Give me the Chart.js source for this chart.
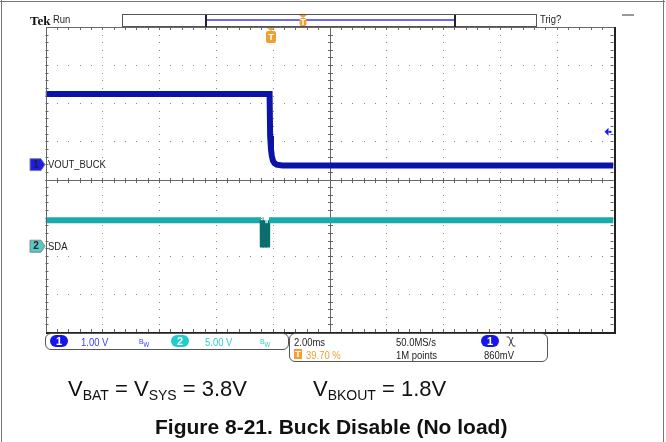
<!DOCTYPE html>
<html><head><meta charset="utf-8">
<script src="https://cdn.jsdelivr.net/npm/chart.js@4.4.1/dist/chart.umd.min.js"></script>
<style>
html,body{margin:0;padding:0;background:#fff;}
#wrap{position:relative;width:666px;height:442px;overflow:hidden;}
#c{position:absolute;left:0;top:0;}
.sc{position:absolute;font:11px 'Liberation Sans',Arial,sans-serif;line-height:11px;white-space:nowrap;transform:scaleX(0.86);transform-origin:0 0;color:#222;}
.box{position:absolute;border:1.5px solid #555;border-radius:6px;box-sizing:border-box;}
.ell{position:absolute;width:18px;height:12px;border-radius:6px;color:#fff;font:bold 11px 'Liberation Sans',Arial,sans-serif;line-height:12px;text-align:center;}
.cap{position:absolute;font:22px 'Liberation Sans',Arial,sans-serif;line-height:22px;white-space:nowrap;color:#111;}
.cap sub{font-size:14px;vertical-align:-4px;line-height:0;}
</style></head>
<body><div id="wrap">
<canvas id="c" width="666" height="442"></canvas>
<div style="position:absolute;left:0;top:1px;width:665px;height:1px;background:#777"></div>
<div style="position:absolute;left:1px;top:0;width:1px;height:442px;background:#777"></div>
<div style="position:absolute;left:663px;top:0;width:1px;height:442px;background:#777"></div>
<div style="position:absolute;left:622px;top:14px;width:12px;height:2px;background:#999"></div>

<div style="position:absolute;left:30px;top:14px;font:bold 13px 'Liberation Serif',serif;line-height:13px;color:#111">Tek</div>
<div class="sc" style="left:53px;top:13.5px">Run</div>
<div class="sc" style="left:540px;top:13.5px">Trig?</div>
<div class="sc" style="left:48px;top:158.7px">VOUT_BUCK</div>
<div class="sc" style="left:48px;top:240.7px">SDA</div>

<div class="box" style="left:45px;top:333px;width:244px;height:17px"></div>
<div class="ell" style="left:50px;top:335px;background:#1616e8">1</div>
<div class="sc" style="left:81px;top:336.7px;color:#3a3aef">1.00 V</div>
<div class="sc" style="left:139px;top:336px;color:#3a3aef;font-size:8px">B<sub style="font-size:7px">W</sub></div>
<div class="ell" style="left:171px;top:335px;background:#22cccc">2</div>
<div class="sc" style="left:205px;top:336.7px;color:#33cccc">5.00 V</div>
<div class="sc" style="left:260px;top:336px;color:#33cccc;font-size:8px">B<sub style="font-size:7px">W</sub></div>

<div class="box" style="left:289px;top:333px;width:259px;height:29px"></div>
<div class="sc" style="left:294px;top:336.7px">2.00ms</div>
<div class="sc" style="left:396px;top:336.7px">50.0MS/s</div>
<div class="ell" style="left:481px;top:335px;background:#1616e8">1</div>
<svg style="position:absolute;left:506px;top:336px" width="10" height="11"><path d="M0.5 1 H3 L7 10 H9.5 M7 1 L3 10" stroke="#444" fill="none" stroke-width="1"/></svg>
<div style="position:absolute;left:294px;top:349px;width:8px;height:10px;background:#f0a030;color:#fff;font:bold 9px 'Liberation Sans',sans-serif;line-height:10px;text-align:center">T</div>
<div class="sc" style="left:306px;top:350px;color:#f0a030">39.70 %</div>
<div class="sc" style="left:396px;top:350px">1M points</div>
<div class="sc" style="left:484px;top:350px">860mV</div>

<div class="cap" style="left:68px;top:378.4px">V<sub>BAT</sub> = V<sub>SYS</sub> = 3.8V</div>
<div class="cap" style="left:313px;top:378.4px">V<sub>BKOUT</sub> = 1.8V</div>
<div class="cap" style="left:155px;top:416.2px;font:bold 21px 'Liberation Sans',Arial,sans-serif;line-height:21px">Figure 8-21. Buck Disable (No load)</div>
</div>
<script>
// ---- scope settings ----
const timePerDiv = 2;      // ms/div
const trigPosPct = 39.70;  // % of record
const ch1VoltsPerDiv = 1.00, ch1PosDiv = 0.39;
const ch2VoltsPerDiv = 5.00, ch2PosDiv = -1.75;
const trigLevel = 0.86;    // V on CH1

// ---- CH1: VOUT_BUCK (ms, V) ----
const ch1Time = [-7.94, -0.05, -0.03, 0.00, 0.03, 0.07, 0.12, 0.20, 0.40, 12.06];
const ch1Volt = [1.85, 1.85, 0.75, 0.40, 0.22, 0.10, 0.04, 0.00, -0.02, -0.02];

// ---- CH2: SDA (ms, V) ----
const ch2Time = [-7.94, -0.355, -0.35, -0.30, -0.295, -0.26, -0.255, -0.20, -0.195, -0.16, -0.155, -0.075, -0.07, 12.06];
const ch2Volt = [3.4, 3.4, 0.0, 0.0, 3.4, 3.4, 0.0, 0.0, 3.0, 3.0, 0.0, 0.0, 3.4, 3.4];

const tx = t => t / timePerDiv + trigPosPct / 10;
const y1 = v => v / ch1VoltsPerDiv + ch1PosDiv;
const y2 = v => v / ch2VoltsPerDiv + ch2PosDiv;

const ch1Pts = ch1Time.map((t, i) => ({x: tx(t), y: y1(ch1Volt[i])}));
const ch2Pts = ch2Time.map((t, i) => ({x: tx(t), y: y2(ch2Volt[i])}));
const ch2Low = y2(2.0);

function tag(ctx, x, y, fill, txt) {
  ctx.save();
  ctx.beginPath();
  ctx.moveTo(x, y - 6); ctx.lineTo(x + 11, y - 6); ctx.lineTo(x + 15, y);
  ctx.lineTo(x + 11, y + 6); ctx.lineTo(x, y + 6); ctx.closePath();
  ctx.fillStyle = fill; ctx.fill();
  ctx.strokeStyle = '#888'; ctx.lineWidth = 1; ctx.stroke();
  ctx.fillStyle = '#222'; ctx.font = 'bold 10px "Liberation Sans"';
  ctx.textAlign = 'center'; ctx.textBaseline = 'middle';
  ctx.fillText(txt, x + 6, y + 0.5);
  ctx.restore();
}
function tMark(ctx, x, top, w, h) {
  ctx.save();
  ctx.fillStyle = '#f0a030';
  ctx.beginPath(); ctx.moveTo(x - 4, top); ctx.lineTo(x + 4, top); ctx.lineTo(x, top + 3); ctx.fill();
  ctx.beginPath(); ctx.roundRect(x - w / 2, top + 3, w, h, 2); ctx.fill();
  ctx.fillStyle = '#fff'; ctx.font = 'bold 9px "Liberation Sans"';
  ctx.textAlign = 'center'; ctx.textBaseline = 'middle';
  ctx.fillText('T', x, top + 3 + h / 2 + 0.5);
  ctx.restore();
}

const graticule = {
  id: 'graticule',
  beforeDatasetsDraw(chart) {
    const ctx = chart.ctx, xs = chart.scales.x, ys = chart.scales.y, a = chart.chartArea;
    ctx.save();
    ctx.fillStyle = '#8a8a8a';
    for (let i = 1; i < 10; i++) {
      if (i === 5) continue;
      const px = Math.round(xs.getPixelForValue(i));
      for (let k = 0; k <= 40; k++) ctx.fillRect(px, Math.round(ys.getPixelForValue(-4 + k * 0.2)), 1, 1);
    }
    for (let j = -3; j <= 3; j++) {
      if (j === 0) continue;
      const py = Math.round(ys.getPixelForValue(j));
      for (let k = 0; k <= 50; k++) ctx.fillRect(Math.round(xs.getPixelForValue(k * 0.2)), py, 1, 1);
    }
    // center lines
    ctx.strokeStyle = '#666'; ctx.lineWidth = 1;
    const cx = Math.round(xs.getPixelForValue(5)) + 0.5, cy = Math.round(ys.getPixelForValue(0)) + 0.5;
    ctx.beginPath();
    ctx.moveTo(cx, a.top); ctx.lineTo(cx, a.bottom);
    ctx.moveTo(a.left, cy); ctx.lineTo(a.right, cy);
    for (let k = 1; k < 50; k++) {
      const px = Math.round(xs.getPixelForValue(k * 0.2)) + 0.5;
      ctx.moveTo(px, cy - 2.5); ctx.lineTo(px, cy + 2.5);
      ctx.moveTo(px, a.top); ctx.lineTo(px, a.top + 3);
      ctx.moveTo(px, a.bottom - 3); ctx.lineTo(px, a.bottom);
    }
    for (let k = 1; k < 40; k++) {
      const py = Math.round(ys.getPixelForValue(-4 + k * 0.2)) + 0.5;
      ctx.moveTo(cx - 2.5, py); ctx.lineTo(cx + 2.5, py);
      ctx.moveTo(a.left, py); ctx.lineTo(a.left + 3, py);
      ctx.moveTo(a.right - 3, py); ctx.lineTo(a.right, py);
    }
    ctx.stroke();
    ctx.restore();
  },
  afterDatasetsDraw(chart) {
    const ctx = chart.ctx, xs = chart.scales.x, ys = chart.scales.y, a = chart.chartArea;
    ctx.save();
    ctx.strokeStyle = '#666'; ctx.lineWidth = 1;
    ctx.strokeRect(Math.round(a.left) + 0.5, Math.round(a.top) + 0.5, Math.round(a.right - a.left), Math.round(a.bottom - a.top));
    ctx.strokeStyle = '#222'; ctx.lineWidth = 2;
    ctx.beginPath();
    ctx.moveTo(Math.round(a.left), Math.round(a.bottom) + 1); ctx.lineTo(Math.round(a.right) + 1, Math.round(a.bottom) + 1);
    ctx.lineTo(Math.round(a.right) + 1, Math.round(a.top));
    ctx.stroke();
    // record bar
    ctx.strokeStyle = '#555'; ctx.lineWidth = 1;
    ctx.strokeRect(122.5, 14.5, 414, 12);
    ctx.strokeStyle = '#6a6af0'; ctx.lineWidth = 2;
    ctx.beginPath(); ctx.moveTo(206, 20); ctx.lineTo(455, 20); ctx.stroke();
    ctx.fillStyle = '#222';
    ctx.fillRect(205, 15, 2, 12); ctx.fillRect(454, 15, 2, 12);
    tMark(ctx, 303, 15, 7, 8);
    // trigger marker
    tMark(ctx, xs.getPixelForValue(tx(0)), 28, 10, 12);
    // channel tags
    tag(ctx, 30, ys.getPixelForValue(y1(0)), '#1c1cf0', '1');
    tag(ctx, 30, ys.getPixelForValue(y2(0)), '#55c8c8', '2');
    // trigger level arrow
    const ty = ys.getPixelForValue(y1(trigLevel));
    ctx.fillStyle = '#1c1cf0';
    ctx.beginPath(); ctx.moveTo(a.right - 9, ty); ctx.lineTo(a.right - 5, ty - 4); ctx.lineTo(a.right - 5, ty + 4); ctx.fill();
    ctx.fillRect(a.right - 5, ty - 1, 3, 2);
    ctx.restore();
  }
};

new Chart(document.getElementById('c'), {
  type: 'line',
  data: {
    datasets: [
      {label: 'SDA', data: ch2Pts, borderColor: '#1aaaaa', borderWidth: 6, pointRadius: 0,
       segment: {
         borderColor: c => (c.p0.parsed.y < ch2Low || c.p1.parsed.y < ch2Low) ? '#0b6e6e' : undefined,
         borderWidth: c => (c.p0.parsed.y < ch2Low || c.p1.parsed.y < ch2Low) ? 2.5 : undefined
       }},
      {label: 'VOUT_BUCK', data: ch1Pts, borderColor: '#0c14a8', borderWidth: 6, pointRadius: 0}
    ]
  },
  options: {
    responsive: false, animation: false,
    layout: {padding: {left: 45.5, top: 27, right: 52.5, bottom: 110}},
    scales: {
      x: {type: 'linear', min: 0, max: 10, display: false},
      y: {type: 'linear', min: -4, max: 4, display: false}
    },
    elements: {line: {tension: 0}},
    plugins: {legend: {display: false}, tooltip: {enabled: false}}
  },
  plugins: [graticule]
});
</script>
</body></html>
